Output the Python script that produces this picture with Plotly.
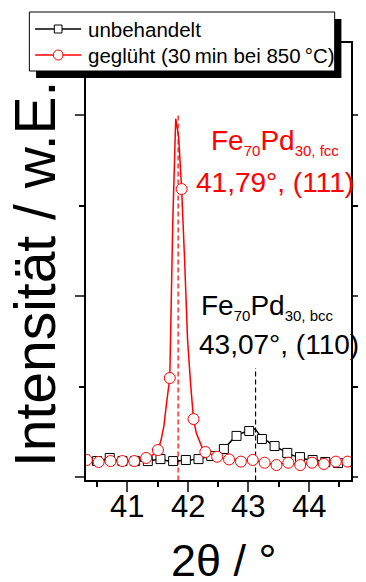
import numpy as np
import plotly.graph_objects as go

# ---------------- data ----------------
# annealed sample (red) : sampling grid start / step
red_x0, red_dx = 40.33, 0.049
red_y = [94, 90, 86, 88, 83, 85, 90, 87, 88, 90, 86, 89, 88, 92, 90, 95, 88, 92, 96, 100,
         105, 110, 120, 135, 149, 200, 280, 420, 547, 1400, 1980, 1880, 1591, 1200, 760, 520,
         320, 240, 195, 160, 138, 130, 125, 118, 112, 108, 100, 98, 97, 96, 94, 95, 85, 90,
         92, 93, 94, 90, 85, 80, 79, 75, 72, 70, 66, 70, 75, 78, 79, 75, 70, 68, 66, 70, 74,
         77, 79, 76, 72, 70, 72, 75, 80, 83, 85, 86, 85, 84, 85, 85]
# untreated sample (black)
blk_x0, blk_dx = 40.343, 0.0524
blk_y = [90, 92, 89, 88, 90, 95, 100, 105, 98, 92, 90, 88, 90, 86, 89, 88, 92, 87, 90, 88,
         92, 96, 97, 99, 94, 90, 86, 88, 84, 90, 92, 94, 90, 96, 97, 99, 104, 108, 112, 116,
         125, 138, 146, 155, 175, 190, 212, 227, 238, 245, 250, 254, 270, 262, 240, 210, 205,
         195, 180, 171, 160, 150, 140, 133, 125, 118, 112, 110, 102, 98, 96, 94, 90, 87, 85,
         83, 82, 80, 78, 77, 78, 80, 82, 83]

red_x = np.round(red_x0 + red_dx * np.arange(len(red_y)), 4)
blk_x = np.round(blk_x0 + blk_dx * np.arange(len(blk_y)), 4)

peak_fcc_pos, peak_fcc_top = 41.84, 2000
peak_bcc_pos, peak_bcc_top = 43.12, 602

x_ticks = [41, 42, 43, 44]
legend_names = ["unbehandelt", "geglüht (30\u2009min bei 850\u2009°C)"]

# ---------------- layout helpers ----------------
OFF = 8  # page body margin
W, H = 366 - OFF, 582 - OFF
L, R, T, B = 86 - OFF, 362 - OFF, 43 - OFF, 480 - OFF


def px(x):
    return (x - OFF - L) / (R - L)


def py(y):
    return (B - (y - OFF)) / (B - T)


FONT = "Arial, Liberation Sans, Helvetica, sans-serif"
RED = "#ff0000"

fig = go.Figure()
fig.add_trace(go.Scatter(x=blk_x, y=blk_y, mode="lines", line=dict(color="black", width=1.5),
                         showlegend=False))
fig.add_trace(go.Scatter(x=blk_x[3::4], y=np.array(blk_y)[3::4], mode="markers",
                         marker=dict(symbol="square", size=9, color="white",
                                     line=dict(color="black", width=1)), showlegend=False))
fig.add_trace(go.Scatter(x=red_x, y=red_y, mode="lines", line=dict(color=RED, width=1.5),
                         showlegend=False))
fig.add_trace(go.Scatter(x=red_x[::4], y=np.array(red_y)[::4], mode="markers",
                         marker=dict(symbol="circle", size=11, color="white",
                                     line=dict(color=RED, width=1)), showlegend=False))

shapes = [
    dict(type="line", xref="x", yref="y", x0=peak_fcc_pos, x1=peak_fcc_pos, y0=-20,
         y1=peak_fcc_top, line=dict(color=RED, width=1.2, dash="5px,3px"), layer="below"),
    dict(type="line", xref="x", yref="y", x0=peak_bcc_pos, x1=peak_bcc_pos, y0=-20,
         y1=peak_bcc_top, line=dict(color="black", width=1.2, dash="5px,3px"), layer="below"),
    # legend shadow and box
    dict(type="rect", xref="paper", yref="paper", x0=px(34), x1=px(352), y0=py(78), y1=py(19),
         fillcolor="black", line=dict(width=0), layer="above"),
    dict(type="rect", xref="paper", yref="paper", x0=px(27), x1=px(345), y0=py(71), y1=py(12),
         fillcolor="white", line=dict(color="black", width=1), layer="above"),
    dict(type="line", xref="paper", yref="paper", x0=px(33), x1=px(81), y0=py(29), y1=py(29),
         line=dict(color="black", width=1.5), layer="above"),
    dict(type="rect", xref="paper", yref="paper", x0=px(53), x1=px(61), y0=py(33), y1=py(25),
         fillcolor="white", line=dict(color="black", width=1), layer="above"),
    dict(type="line", xref="paper", yref="paper", x0=px(33), x1=px(81), y0=py(55), y1=py(55),
         line=dict(color=RED, width=1.5), layer="above"),
    dict(type="circle", xref="paper", yref="paper", x0=px(52), x1=px(62), y0=py(60), y1=py(50),
         fillcolor="white", line=dict(color=RED, width=1), layer="above"),
]

ann = []
for name, yy in zip(legend_names, [29, 55]):
    ann.append(dict(text=name, x=px(86), y=py(yy), xref="paper", yref="paper",
                    xanchor="left", yanchor="middle", showarrow=False,
                    font=dict(family=FONT, size=20.5, color="black")))


def sub(t):
    return "<sub><span style='font-size:15px'>" + t + "</span></sub>"


def label(text, x_left, y_mid, color, size=28, **kw):
    return dict(text=text, x=px(x_left), y=py(y_mid), xref="paper", yref="paper",
                xanchor="left", yanchor="middle", showarrow=False,
                font=dict(family=FONT, size=size, color=color), **kw)


ann += [
    label("Fe" + sub("70") + "Pd" + sub("30, fcc"), 214, 142, RED),
    label("41,79°, (111)", 198, 182, RED),
    label("Fe" + sub("70") + "Pd" + sub("30, bcc"), 204, 307, "black"),
    label("43,07°, (110)", 202, 344, "black"),
    dict(text="Intensität / w.E.", x=px(33), y=py(274), xref="paper", yref="paper",
         xanchor="center", yanchor="middle", textangle=-90, showarrow=False, height=50,
         font=dict(family=FONT, size=57, color="black")),
    label("2θ / °", 172, 560, "black", 45, height=40),
]
for t in x_ticks:
    ann.append(dict(text=str(t), x=t, xref="x", y=py(507), yref="paper", xanchor="center",
                    yanchor="middle", showarrow=False,
                    font=dict(family=FONT, size=31, color="black")))

fig.update_layout(
    width=W, height=H, margin=dict(l=L, r=W - R, t=T, b=H - B),
    paper_bgcolor="white", plot_bgcolor="white",
    shapes=shapes, annotations=ann, showlegend=False,
    font=dict(family=FONT, color="black"),
)
fig.update_xaxes(range=[40.317, 44.698], tickvals=x_ticks, ticks="outside", ticklen=10,
                 tickwidth=1.5, showline=True, linewidth=1.5, linecolor="black",
                 mirror="allticks", showgrid=False, zeroline=False, showticklabels=False,
                 minor=dict(dtick=0.5, tick0=40.5, ticks="outside", ticklen=5, tickwidth=1.5,
                            tickcolor="black", showgrid=False))
fig.update_yaxes(range=[-16.6, 2398], tick0=0, dtick=1000, ticks="outside", ticklen=9,
                 tickwidth=1.5, showline=True, linewidth=1.5, linecolor="black",
                 mirror="allticks", showgrid=False, zeroline=False, showticklabels=False,
                 minor=dict(dtick=500, tick0=0, ticks="outside", ticklen=5, tickwidth=1.5,
                            tickcolor="black", showgrid=False))

fig.write_html("out.html")
